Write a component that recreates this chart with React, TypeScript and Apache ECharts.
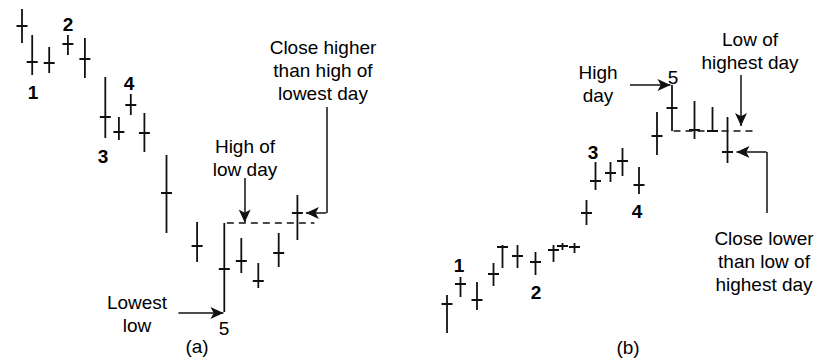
import React, { useEffect, useRef } from "react";
import * as echarts from "echarts";

// Panel (a): a downtrend ending in a key reversal up (day position, high, low, close)
const daysA = [0, 0.6, 1.6, 2.7, 3.7, 4.9, 5.7, 6.4, 7.2, 8.5, 10.3, 11.9, 12.9, 13.9, 15.1, 16.2];
const highA = [165.5, 152.5, 146.5, 152.5, 151, 131.5, 111.5, 123, 113.5, 92.5, 59, 58.5, 51, 38.5, 53.5, 72.5];
const lowA = [148.5, 132.5, 133.5, 142.5, 131, 101, 100, 112.5, 94, 53.5, 39, 14, 33.5, 26, 36.5, 50];
const closeA = [157, 139, 138.5, 148, 140.5, 111.5, 104, 117.5, 103.5, 73.5, 47, 35.5, 39.5, 29.5, 43.5, 63.5];

// Panel (b): an uptrend ending in a reversal down
const daysB = [0, 0.9, 2.0, 3.1, 3.7, 4.7, 5.9, 7.1, 7.7, 8.5, 9.3, 9.9, 10.9, 11.7, 12.8, 14.0, 15.0, 16.5, 17.7, 18.7];
const highB = [22.5, 31.5, 29, 38.5, 47.5, 47.5, 44, 47.5, 48.5, 48.5, 70, 89, 89, 96, 86.5, 114, 127.5, 119.5, 116.5, 111.5];
const lowB = [3.5, 21.5, 15, 27, 36, 36, 32.5, 39, 45, 43.5, 57.5, 75, 79, 82, 73, 92.5, 104.5, 100.5, 104.5, 88.5];
const closeB = [18, 28, 20, 33, 46.5, 42, 39, 45, 47, 46.5, 63.5, 79.5, 83.5, 89.5, 77.5, 102, 116, 105, 104.5, 94];

// Numbered swing labels
const swingLabelsA = ["1", "2", "3", "4", "5"];
const swingLabelsB = ["1", "2", "3", "4", "5"];

const INK = "#111";
const FONT = "'Liberation Sans', Arial, sans-serif";

function ohlcData(days: number[], hi: number[], lo: number[], cl: number[]) {
  return days.map((d, i) => [d, hi[i], lo[i], cl[i]]);
}

function renderBar(params: any, api: any) {
  const x = api.value(0);
  const pH = api.coord([x, api.value(1)]);
  const pL = api.coord([x, api.value(2)]);
  const pC = api.coord([x, api.value(3)]);
  const st = { stroke: INK, lineWidth: 1.8 };
  return {
    type: "group",
    children: [
      { type: "line", shape: { x1: pH[0], y1: pH[1], x2: pL[0], y2: pL[1] }, style: st },
      { type: "line", shape: { x1: pC[0] - 5.5, y1: pC[1], x2: pC[0] + 5.5, y2: pC[1] }, style: { stroke: INK, lineWidth: 2 } },
    ],
  };
}

function seg(x1: number, y1: number, x2: number, y2: number, arrow: boolean) {
  return [
    { coord: [x1, y1], symbol: "none" },
    { coord: [x2, y2], symbol: arrow ? "arrow" : "none" },
  ];
}

function dashed(x1: number, x2: number, y: number) {
  return [
    { coord: [x1, y], symbol: "none", lineStyle: { type: [7, 5], width: 1.5, color: INK } },
    { coord: [x2, y], symbol: "none" },
  ];
}

function txt(text: string, x: number, y: number, bold = false) {
  return {
    type: "text",
    x,
    y,
    silent: true,
    style: {
      text,
      fill: "#000",
      font: `${bold ? "bold " : ""}19px ${FONT}`,
      lineHeight: 23,
      textAlign: "center",
      align: "center",
      textVerticalAlign: "middle",
      verticalAlign: "middle",
    },
  };
}

export default function App() {
  const ref = useRef<HTMLDivElement>(null);
  useEffect(() => {
    if (!ref.current) return;
    const chart = echarts.init(ref.current, null, { renderer: "svg" });
    const lineBase = { color: INK, width: 1.5, type: "solid" };
    const markBase = {
      silent: true,
      animation: false,
      symbolSize: [9, 13],
      label: { show: false },
      lineStyle: lineBase,
      itemStyle: { color: INK },
    };
    const option: any = {
      animation: false,
      backgroundColor: "#fff",
      grid: [
        { left: 22, top: 0, width: 306, height: 340 },
        { left: 447, top: 0, width: 330, height: 340 },
      ],
      xAxis: [
        { type: "value", gridIndex: 0, min: 0, max: 18, show: false },
        { type: "value", gridIndex: 1, min: 0, max: 22, show: false },
      ],
      yAxis: [
        { type: "value", gridIndex: 0, min: 0, max: 170, show: false },
        { type: "value", gridIndex: 1, min: 0, max: 170, show: false },
      ],
      series: [
        {
          type: "custom",
          xAxisIndex: 0,
          yAxisIndex: 0,
          renderItem: renderBar,
          data: ohlcData(daysA, highA, lowA, closeA),
          silent: true,
          markLine: {
            ...markBase,
            data: [
              dashed(daysA[11] + 0.15, 17.2, highA[11]),
              seg(9.2, lowA[11] - 0.5, daysA[11] - 0.05, lowA[11] - 0.5, true),
              seg(13.1, 81, 13.1, highA[11] + 0.3, true),
              seg(17.9, 116.5, 17.9, closeA[15], false),
              seg(17.9, closeA[15], 16.7, closeA[15], true),
            ],
          },
        },
        {
          type: "custom",
          xAxisIndex: 1,
          yAxisIndex: 1,
          renderItem: renderBar,
          data: ohlcData(daysB, highB, lowB, closeB),
          silent: true,
          markLine: {
            ...markBase,
            data: [
              dashed(daysB[16] + 0.1, 20.7, lowB[16]),
              seg(12.2, highB[16], daysB[16] - 0.1, highB[16], true),
              seg(19.6, 132.5, 19.6, lowB[16] + 2.5, true),
              seg(21.3, 63.5, 21.3, closeB[19], false),
              seg(21.3, closeB[19], 19.3, closeB[19], true),
            ],
          },
        },
      ],
      graphic: [
        // panel (a)
        txt(swingLabelsA[0], 33, 92, true),
        txt(swingLabelsA[1], 68, 24, true),
        txt(swingLabelsA[2], 103, 156, true),
        txt(swingLabelsA[3], 129, 83, true),
        txt(swingLabelsA[4], 224, 328),
        txt("High of\nlow day", 245, 158),
        txt("Close higher\nthan high of\nlowest day", 323, 70),
        txt("Lowest\nlow", 137, 314),
        txt("(a)", 197, 346),
        // panel (b)
        txt(swingLabelsB[0], 459, 265, true),
        txt(swingLabelsB[1], 536, 292, true),
        txt(swingLabelsB[2], 593, 152, true),
        txt(swingLabelsB[3], 637, 211, true),
        txt(swingLabelsB[4], 673, 77),
        txt("High\nday", 598, 84),
        txt("Low of\nhighest day", 750, 51),
        txt("Close lower\nthan low of\nhighest day", 764, 261),
        txt("(b)", 628, 347),
      ],
    };
    chart.setOption(option);
    return () => chart.dispose();
  }, []);
  return (
    <div
      ref={ref}
      style={{ position: "fixed", left: 0, top: 0, width: 838, height: 361, background: "#fff" }}
    />
  );
}
